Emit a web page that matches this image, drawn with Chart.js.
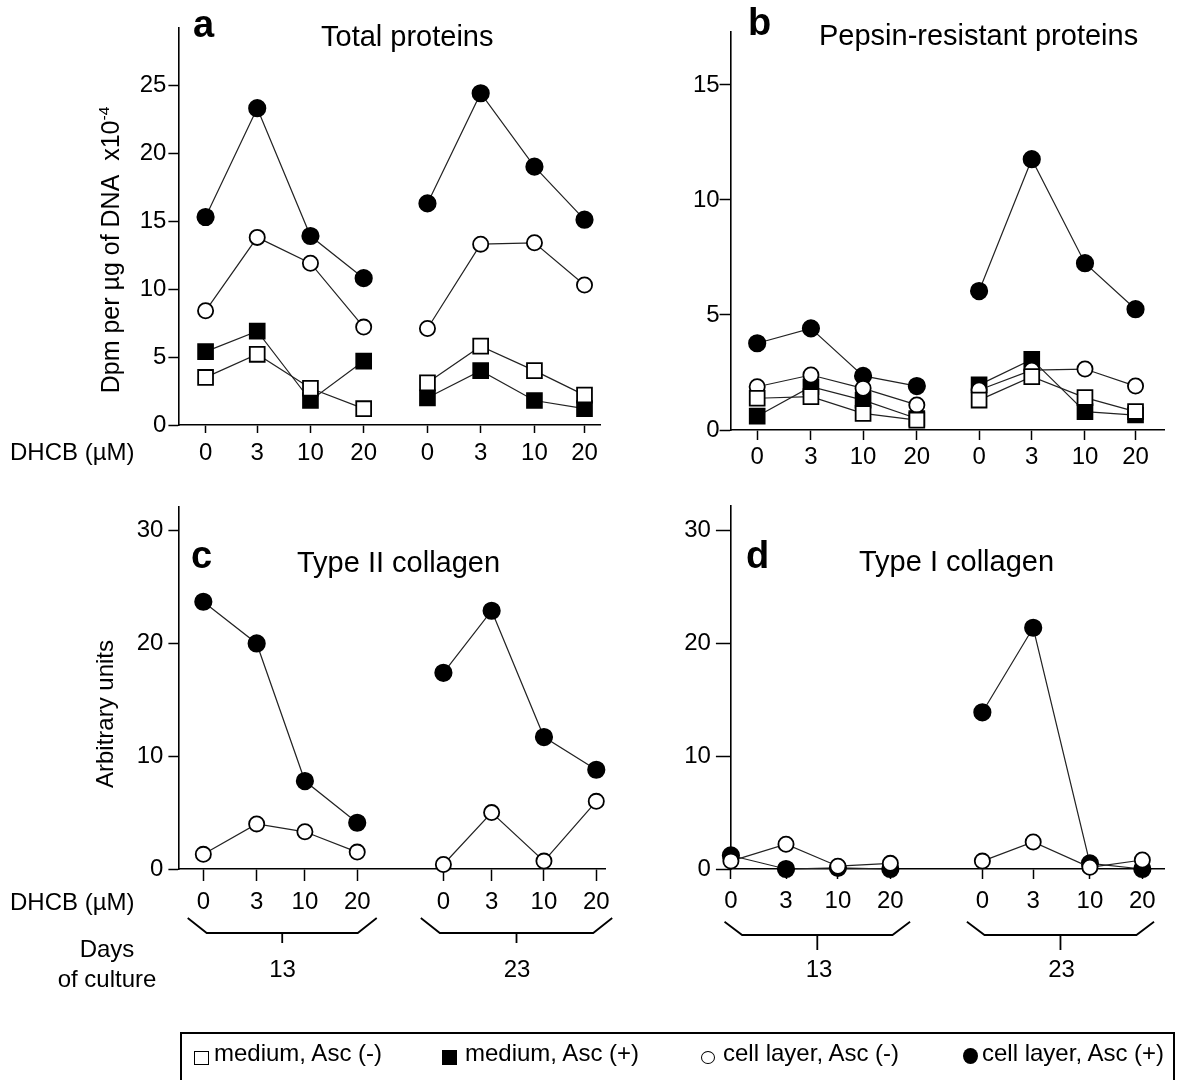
<!DOCTYPE html>
<html><head><meta charset="utf-8">
<script src="https://cdn.jsdelivr.net/npm/chart.js@4.4.1/dist/chart.umd.min.js"></script>
<style>
html,body{margin:0;padding:0;background:#fff;}
#page{position:relative;width:1179px;height:1080px;overflow:hidden;font-family:"Liberation Sans",Arial,Helvetica,sans-serif;color:#000;}
canvas{position:absolute;left:0;top:0;pointer-events:none;}
.t{position:absolute;white-space:nowrap;line-height:1;}
.rot{position:absolute;white-space:nowrap;line-height:1;transform:translate(-50%,-50%) rotate(-90deg);}
.rot sup{font-size:0.62em;vertical-align:0.6em;line-height:0;}
#legend{position:absolute;left:180px;top:1032px;width:995px;height:70px;border:2px solid #000;box-sizing:border-box;}
.sym{position:absolute;box-sizing:border-box;}
</style></head><body><div id="page">
<canvas id="ca" width="1179" height="1080"></canvas>
<canvas id="cb" width="1179" height="1080"></canvas>
<canvas id="cc" width="1179" height="1080"></canvas>
<canvas id="cd" width="1179" height="1080"></canvas>
<div id="legend"></div>
</div>
<script>
// ---------------- DATA ----------------
const doseLabels = ['0','3','10','20','0','3','10','20'];   // DHCB (µM)
const dayGroups = ['13','23'];                               // days of culture
const seriesNames = ['medium, Asc (-)','medium, Asc (+)','cell layer, Asc (-)','cell layer, Asc (+)'];

// a: Total proteins
const aMediumMinus = [3.5, 5.2, 2.7, 1.2,   3.1, 5.8, 4.0, 2.2];
const aMediumPlus  = [5.4, 6.9, 1.8, 4.7,   2.0, 4.0, 1.8, 1.2];
const aCellMinus   = [8.4, 13.8, 11.9, 7.2, 7.1, 13.3, 13.4, 10.3];
const aCellPlus    = [15.3, 23.3, 13.9, 10.8, 16.3, 24.4, 19.0, 15.1];
const aYTicks = [0,5,10,15,20,25];

// b: Pepsin-resistant proteins
const bMediumMinus = [1.38, 1.45, 0.72, 0.43, 1.3, 2.32, 1.41, 0.8];
const bMediumPlus  = [0.6, 1.88, 1.3, 0.5,    1.96, 3.07, 0.8, 0.65];
const bCellMinus   = [1.88, 2.39, 1.81, 1.09, 1.74, 2.6, 2.65, 1.91];
const bCellPlus    = [3.77, 4.42, 2.35, 1.91, 6.04, 11.77, 7.25, 5.25];
const bYTicks = [0,5,10,15];

// c: Type II collagen
const cCellMinus = [1.3, 4.0, 3.3, 1.5,   0.4, 5.0, 0.7, 6.0];
const cCellPlus  = [23.7, 20.0, 7.8, 4.1, 17.4, 22.9, 11.7, 8.8];
const cYTicks = [0,10,20,30];

// d: Type I collagen
const dCellMinus = [0.7, 2.2, 0.25, 0.5, 0.7, 2.4, 0.15, 0.8];
const dCellPlus  = [1.2, 0, 0.1, 0,      13.9, 21.4, 0.5, 0];
const dYTicks = [0,10,20,30];

// ---------------- STYLE / LAYOUT ----------------
const FF = '"Liberation Sans", Arial, Helvetica, sans-serif';
Chart.defaults.font.family = FF;
const YW = 60, XH = 50, W = 1179, H = 1080, TICKFONT = 24;
const STYLE = {
  mediumMinus: {ps:'rect', r:10.5, fill:'#fff'},
  mediumPlus:  {ps:'rect', r:10.5, fill:'#000'},
  cellMinus:   {ps:'circle', r:7.6, fill:'#fff'},
  cellPlus:    {ps:'circle', r:8.2, fill:'#000'}
};

function ds(values, pos, st) {
  const pts = [];
  values.forEach((v, i) => {
    if (i === 4) pts.push({x: (pos[3] + pos[4]) / 2, y: null});
    pts.push({x: pos[i], y: v});
  });
  return {data: pts, pointStyle: st.ps, pointRadius: st.r, pointHoverRadius: st.r,
    pointBackgroundColor: st.fill, pointBorderColor: '#000', pointBorderWidth: 1.8,
    borderColor: '#222', borderWidth: 1.2, spanGaps: false, clip: false, fill: false, tension: 0};
}

function bracketPlugin(cfg) {
  return {id: 'brackets', afterDraw(chart) {
    if (!cfg) return;
    const ctx = chart.ctx, xs = chart.scales.x;
    ctx.save(); ctx.strokeStyle = '#000'; ctx.lineWidth = 1.8;
    cfg.groups.forEach(g => {
      const x0 = xs.getPixelForValue(g[0]), x1 = xs.getPixelForValue(g[1]), xm = (x0 + x1) / 2;
      ctx.beginPath();
      ctx.moveTo(x0 - cfg.dx, cfg.top); ctx.lineTo(x0, cfg.bottom); ctx.lineTo(x1, cfg.bottom); ctx.lineTo(x1 + cfg.dx, cfg.top);
      ctx.moveTo(xm, cfg.bottom); ctx.lineTo(xm, cfg.bottom + cfg.tick);
      ctx.stroke();
    });
    ctx.restore();
  }};
}

function makeChart(id, P) {
  return new Chart(document.getElementById(id), {
    type: 'line',
    data: {datasets: P.datasets},
    options: {
      responsive: false, animation: false, devicePixelRatio: 1,
      layout: {autoPadding: false, padding: {left: P.area.left - YW, right: W - P.area.right, top: P.area.top, bottom: H - P.area.bottom - XH}},
      plugins: {legend: {display: false}, tooltip: {enabled: false}},
      scales: {
        x: {type: 'linear', min: P.xMin, max: P.xMax,
          afterBuildTicks: s => { s.ticks = P.pos.map(v => ({value: v})); },
          afterFit: s => { s.height = XH; },
          ticks: {autoSkip: false, maxRotation: 0, minRotation: 0, padding: P.xPad, color: '#000', font: {size: TICKFONT, family: FF},
            callback: (v, i) => doseLabels[i]},
          grid: {display: true, drawOnChartArea: false, drawTicks: true, tickLength: P.xTick, tickWidth: 1.5, tickColor: '#000'},
          border: {display: true, color: '#000', width: 1.6}},
        y: {type: 'linear', min: 0, max: P.yMax,
          afterBuildTicks: s => { s.ticks = P.yTicks.map(v => ({value: v})); },
          afterFit: s => { s.width = YW; },
          ticks: {padding: P.yPad, color: '#000', font: {size: TICKFONT, family: FF}},
          grid: {display: true, drawOnChartArea: false, drawTicks: true, tickLength: P.yTick, tickWidth: 1.5, tickColor: '#000'},
          border: {display: true, color: '#000', width: 1.6}}
      }
    },
    plugins: [bracketPlugin(P.brackets)]
  });
}

const posA = [0, 0.98, 1.99, 3.0, 4.21, 5.22, 6.24, 7.19];
const posB = [0, 1.01, 1.99, 3.0, 4.17, 5.16, 6.16, 7.11];
const posC = [0, 1.04, 1.98, 3.0, 4.68, 5.62, 6.64, 7.66];
const posD = [0, 1.03, 2.0, 2.98, 4.70, 5.65, 6.71, 7.69];

makeChart('ca', {area: {left: 178.7, right: 600, top: 28, bottom: 425}, xMin: -0.51, xMax: 7.484, yMax: 29.2,
  pos: posA, yTicks: aYTicks, xTick: 8, yTick: 10.3, xPad: 6, yPad: 2,
  datasets: [ds(aMediumMinus, posA, STYLE.mediumMinus), ds(aCellMinus, posA, STYLE.cellMinus), ds(aMediumPlus, posA, STYLE.mediumPlus), ds(aCellPlus, posA, STYLE.cellPlus)]});
makeChart('cb', {area: {left: 730.9, right: 1164.8, top: 32, bottom: 430}, xMin: -0.494, xMax: 7.66, yMax: 17.3,
  pos: posB, yTicks: bYTicks, xTick: 10, yTick: 11.3, xPad: 3, yPad: 0,
  datasets: [ds(bMediumMinus, posB, STYLE.mediumMinus), ds(bCellMinus, posB, STYLE.cellMinus), ds(bMediumPlus, posB, STYLE.mediumPlus), ds(bCellPlus, posB, STYLE.cellPlus)]});
makeChart('cc', {area: {left: 178.7, right: 605, top: 507, bottom: 869}, xMin: -0.48, xMax: 7.83, yMax: 32.1,
  pos: posC, yTicks: cYTicks, xTick: 12, yTick: 10.3, xPad: 7, yPad: 5,
  datasets: [ds(cCellMinus, posC, STYLE.cellMinus), ds(cCellPlus, posC, STYLE.cellPlus)],
  brackets: {groups: [[0.066, 3.01], [4.61, 7.60]], top: 918, bottom: 933, dx: 19, tick: 10}});
makeChart('cd', {area: {left: 730.9, right: 1164.8, top: 506, bottom: 869}, xMin: 0, xMax: 8.11, yMax: 32.2,
  pos: posD, yTicks: dYTicks, xTick: 10, yTick: 15, xPad: 8, yPad: 5,
  datasets: [ds(dCellMinus, posD, STYLE.cellMinus), ds(dCellPlus, posD, STYLE.cellPlus)],
  brackets: {groups: [[0.21, 3.02], [4.74, 7.58]], top: 921.7, bottom: 935, dx: 17.6, tick: 15}});

// ---------------- TEXT (DOM) ----------------
const page = document.getElementById('page');
function txt(s, x, baseline, size, opt = {}) {
  const d = document.createElement('div');
  d.className = 't';
  d.textContent = s;
  d.style.fontSize = size + 'px';
  if (opt.bold) d.style.fontWeight = 'bold';
  d.style.top = (baseline - 0.8465 * size) + 'px';
  d.style.left = x + 'px';
  if (opt.center) d.style.transform = 'translateX(-50%)';
  page.appendChild(d);
}
function rot(html, cx, cy, size) {
  const d = document.createElement('div');
  d.className = 'rot'; d.innerHTML = html; d.style.fontSize = size + 'px';
  d.style.left = cx + 'px'; d.style.top = cy + 'px';
  page.appendChild(d);
}
txt('a', 193, 37, 38, {bold: true});
txt('Total proteins', 321, 47, 29);
txt('b', 748, 35, 38, {bold: true});
txt('Pepsin-resistant proteins', 819, 46, 29);
txt('c', 191, 568, 38, {bold: true});
txt('Type II collagen', 297, 573, 29);
txt('d', 746, 568, 38, {bold: true});
txt('Type I collagen', 859, 572, 29);
txt('DHCB (µM)', 10, 460, 24);
txt('DHCB (µM)', 10, 910, 24);
txt('Days', 107, 957, 24, {center: true});
txt('of culture', 107, 987, 24, {center: true});
txt(dayGroups[0], 282.5, 977, 24, {center: true});
txt(dayGroups[1], 517, 977, 24, {center: true});
txt(dayGroups[0], 819, 977, 24, {center: true});
txt(dayGroups[1], 1061.5, 977, 24, {center: true});
rot('Dpm per µg of DNA&nbsp; x10<sup>-4</sup>', 110, 250, 25);
rot('Arbitrary units', 105, 714, 24);

// legend
const legendItems = [
  {x: 194, tx: 214, st: 'border:1.6px solid #000;background:#fff;width:15px;height:14px;top:1051px;'},
  {x: 442, tx: 465, st: 'background:#000;width:15px;height:15px;top:1050px;'},
  {x: 701, tx: 723, st: 'border:1.6px solid #000;background:#fff;width:14px;height:13px;border-radius:50%;top:1051px;'},
  {x: 963, tx: 982, st: 'background:#000;width:15px;height:16px;border-radius:50%;top:1048px;'}
];
legendItems.forEach((it, i) => {
  const s = document.createElement('div');
  s.className = 'sym'; s.style.cssText += it.st; s.style.left = it.x + 'px';
  page.appendChild(s);
  txt(seriesNames[i], it.tx, 1061, 24);
});
</script>
</body></html>
